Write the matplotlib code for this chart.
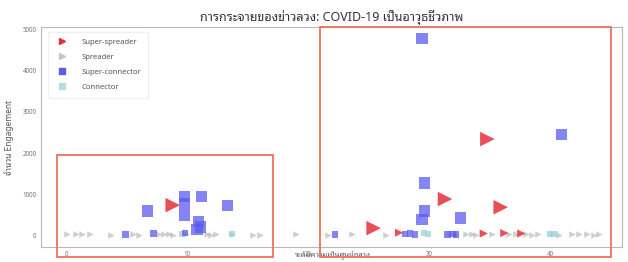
import matplotlib
matplotlib.use("Agg")
import matplotlib.pyplot as plt
from matplotlib import font_manager
from matplotlib.patches import Rectangle
from matplotlib.lines import Line2D
from fontTools.ttLib import TTFont

# -------- data --------
# super-spreaders: large red triangles
ss_x = [8.8, 34.8, 31.3, 35.9, 25.4, 27.5, 34.5, 36.2, 37.6]
ss_y = [730, 2340, 880, 680, 170, 60, 40, 50, 40]

# spreaders: small grey triangles along the bottom
sp_x = [0.1, 0.8, 1.3, 2.0, 3.7, 5.5, 6.0, 7.7, 8.1, 8.5, 8.8, 9.9, 11.6, 12.0, 12.4,
        13.7, 15.4, 16.0, 19.0, 21.6, 23.6, 26.4, 31.7, 32.2, 33.0, 33.5, 33.9, 35.2,
        36.6, 37.2, 38.0, 38.5, 39.0, 40.2, 40.7, 41.8, 42.4, 43.0, 43.6, 44.0]
sp_y = [20, 20, 30, 20, 10, 20, 10, 30, 20, 20, 10, 30, 20, 10, 20,
        30, 10, 10, 20, 10, 20, 10, 20, 10, 30, 20, 10, 20,
        20, 30, 20, 10, 20, 20, 10, 20, 30, 20, 10, 20]

# super-connectors: blue squares
sc_x = [6.7, 9.8, 9.8, 9.8, 11.2, 13.3, 10.9, 11.1, 10.8, 9.8, 7.2, 4.9,
        29.4, 40.9, 29.6, 29.6, 29.4, 32.6, 22.2, 28.0, 28.4, 28.8, 31.5, 31.9, 32.2]
sc_y = [590, 950, 760, 470, 950, 730, 340, 200, 140, 50, 40, 20,
        4780, 2460, 1270, 590, 390, 420, 20, 30, 40, 20, 20, 30, 20]

# connectors: light blue squares along the bottom
cn_x = [9.6, 13.7, 29.6, 29.9, 40.0, 40.4]
cn_y = [40, 30, 50, 30, 30, 20]

title = "การกระจายของข่าวลวง: COVID-19 เป็นอาวุธชีวภาพ"
xlabel = "ระดับความเป็นศูนย์กลาง"
ylabel = "จำนวน Engagement"


def thai_font():
    # find an installed proportional font that has Thai glyphs
    found = []
    for path in font_manager.findSystemFonts():
        try:
            cmap = TTFont(path, fontNumber=0, lazy=True).getBestCmap()
        except Exception:
            continue
        if cmap and ord("ก") in cmap and ord("A") in cmap:
            name = font_manager.FontProperties(fname=path).get_name()
            found.append(name)
    liked = ["Noto Sans Thai", "Sarabun", "Loma", "Garuda", "Waree", "Umpush",
             "Sawasdee", "Kinnari", "Norasi"]
    for want in liked:
        for name in found:
            if name.startswith(want) and "Mono" not in name:
                return name
    for name in found:
        if not any(k in name for k in ("Mono", "Typ", "Type")):
            return name
    return found[0] if found else None


th = thai_font()
fams = ([th] if th else []) + ["DejaVu Sans"]
plt.rcParams["font.family"] = fams

fig = plt.figure(figsize=(6.28, 2.62), dpi=100)
ax = fig.add_axes([0.065, 0.057, 0.925, 0.84])

big = lambda ys, a, b: [b if v > 100 else a for v in ys]

ax.scatter(sp_x, sp_y, marker=">", s=22, color="#a8a8a8", alpha=0.55, lw=0)
ax.scatter(cn_x, cn_y, marker="s", s=22, color="#9fd6dc", alpha=0.8, lw=0)
ax.scatter(sc_x, sc_y, marker="s", s=big(sc_y, 22, 65), color="#5b5bf0", alpha=0.75, lw=0)
ax.scatter(ss_x, ss_y, marker=">", s=big(ss_y, 35, 110), color="#e53038", alpha=0.85, lw=0)

ax.set_xlim(-2.1, 45.9)
ax.set_ylim(-290, 5070)
ax.set_xticks([0, 10, 20, 30, 40])
ax.set_yticks([0, 1000, 2000, 3000, 4000, 5000])
ax.tick_params(labelsize=4.5, colors="#777777", length=0, pad=3)
for s in ax.spines.values():
    s.set_color("#b8b8b8")
    s.set_linewidth(0.8)

ax.set_title(title, fontsize=9, color="#333333", pad=4)
ax.set_ylabel(ylabel, fontsize=6, color="#555555", labelpad=6)
# x label sits right at the bottom edge, under the tick labels
fig.text(0.53, 0.008, xlabel, fontsize=5.5, color="#555555", ha="center", va="bottom")

handles = [
    Line2D([], [], ls="", marker=">", ms=5, color="#e53038"),
    Line2D([], [], ls="", marker=">", ms=4, color="#c8c8c8"),
    Line2D([], [], ls="", marker="s", ms=4.5, color="#5b5bf0"),
    Line2D([], [], ls="", marker="s", ms=4.5, color="#b5dde2"),
]
leg = ax.legend(handles, ["Super-spreader", "Spreader", "Super-connector", "Connector"],
                loc="upper left", fontsize=5.5, frameon=True, borderpad=0.9,
                labelspacing=1.0, handletextpad=1.5, bbox_to_anchor=(0.005, 0.995))
leg.get_frame().set_edgecolor("#eeeeee")
for t in leg.get_texts():
    t.set_color("#555555")

# red highlight boxes drawn over the figure
for x0, y0, w, h in [(57, 5, 216, 102), (320, 5, 291, 230)]:
    fig.patches.append(Rectangle((x0 / 628, y0 / 262), w / 628, h / 262,
                                 transform=fig.transFigure, fill=False,
                                 ec="#f0705c", lw=1.3, zorder=10))

fig.savefig("out.png", dpi=100)
